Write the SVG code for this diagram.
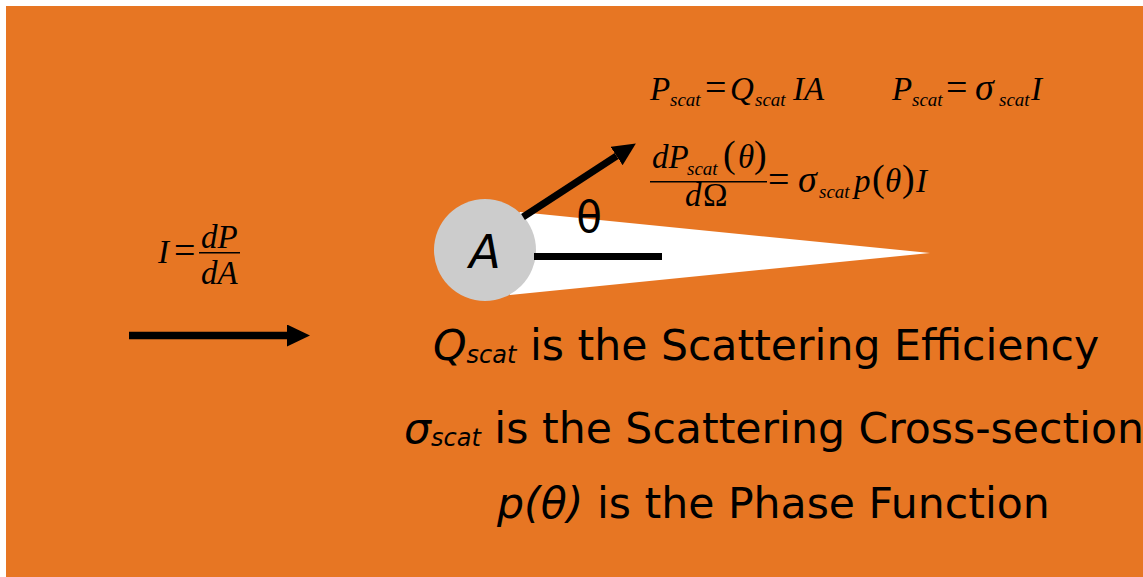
<svg xmlns="http://www.w3.org/2000/svg" width="1143" height="577" viewBox="0 0 1143 577">
  <style>
    .sans { font-family: "DejaVu Sans", sans-serif; fill: #000; }
    .big { font-size: 42.6px; }
    .it { font-style: italic; }
    .sub { font-size: 24px; font-style: italic; }
    .math { font-family: "Liberation Serif", serif; font-style: italic; font-size: 33px; fill: #000; }
    .msub { font-size: 19px; }
    .up { font-style: normal; }
    .op { font-size: 38px; font-style: normal; }
    .sig { font-size: 38px; }
    .par { font-size: 38px; font-style: normal; }
    .stroke { stroke: #000; fill: none; }
  </style>
  <defs>
    <marker id="head" markerUnits="userSpaceOnUse" markerWidth="23" markerHeight="22" refX="0" refY="11" orient="auto">
      <path d="M0,0 L23,11 L0,22 Z" fill="#000"/>
    </marker>
  </defs>
  <rect x="0" y="0" width="1143" height="577" fill="#ffffff"/>
  <rect x="6" y="6" width="1137" height="571" fill="#E77623"/>

  <g id="cone">
    <polygon points="485,250 520,212 930,253 510,295" fill="#ffffff"/>
  </g>

  <g id="particle">
    <circle cx="485" cy="250" r="51" fill="#CCCCCC"/>
    <text class="sans it" x="485" y="268" font-size="46" text-anchor="middle">A</text>
  </g>

  <g id="connectors">
    <line class="stroke" x1="129" y1="335.5" x2="287" y2="335.5" stroke-width="7.5" marker-end="url(#head)"/>
    <line class="stroke" x1="523" y1="217" x2="616.6" y2="156" stroke-width="7" marker-end="url(#head)"/>
    <line class="stroke" x1="534" y1="256.5" x2="662" y2="256.5" stroke-width="7"/>
  </g>

  <g id="theta-label">
    <text class="sans" x="589" y="232" font-size="42" text-anchor="middle">θ</text>
  </g>

  <g id="eq-intensity">
    <text class="math" x="158" y="263">I</text>
    <text class="math op" x="174" y="263">=</text>
    <text class="math" x="201" y="248">dP</text>
    <line class="stroke" x1="199" y1="252.7" x2="240" y2="252.7" stroke-width="1.6"/>
    <text class="math" x="201" y="284">dA</text>
  </g>

  <g id="eq-pscat-q">
    <text class="math" x="650" y="100">P</text>
    <text class="math msub" x="670" y="106">scat</text>
    <text class="math op" x="705" y="100">=</text>
    <text class="math" x="730" y="100">Q</text>
    <text class="math msub" x="755" y="106">scat</text>
    <text class="math" x="793" y="100">IA</text>
  </g>

  <g id="eq-pscat-sigma">
    <text class="math" x="892" y="100">P</text>
    <text class="math msub" x="912" y="106">scat</text>
    <text class="math op" x="946" y="100">=</text>
    <text class="math sig" x="975" y="100">σ</text>
    <text class="math msub" x="999" y="106">scat</text>
    <text class="math" x="1031" y="100">I</text>
  </g>

  <g id="eq-phase">
    <text class="math" x="652" y="168">dP</text>
    <text class="math msub" x="687" y="175">scat</text>
    <text class="math par" x="723" y="167">(</text>
    <text class="math" x="738" y="168">θ</text>
    <text class="math par" x="754" y="167">)</text>
    <line class="stroke" x1="650" y1="181.7" x2="767" y2="181.7" stroke-width="1.6"/>
    <text class="math" x="685" y="206">d</text>
    <text class="math up" x="703" y="206">Ω</text>
    <text class="math op" x="768" y="192">=</text>
    <text class="math sig" x="798" y="192">σ</text>
    <text class="math msub" x="819" y="198">scat</text>
    <text class="math" x="854" y="192">p</text>
    <text class="math par" x="872" y="191">(</text>
    <text class="math" x="885" y="192">θ</text>
    <text class="math par" x="902" y="191">)</text>
    <text class="math" x="916" y="192">I</text>
  </g>

  <g id="legend">
    <text class="sans big" x="433" y="360"><tspan class="it">Q</tspan><tspan class="sub" dy="3">scat</tspan><tspan dy="-3"> is the Scattering Efficiency</tspan></text>
    <text class="sans big" x="404" y="443"><tspan class="it">σ</tspan><tspan class="sub" dy="3">scat</tspan><tspan dy="-3"> is the Scattering Cross-section</tspan></text>
    <text class="sans big" x="497" y="518"><tspan class="it">p(θ)</tspan> is the Phase Function</text>
  </g>
</svg>
